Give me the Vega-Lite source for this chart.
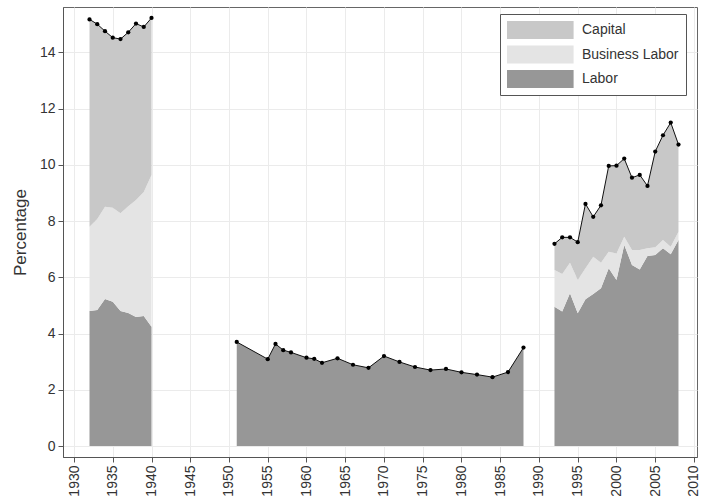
{
  "$schema": "https://vega.github.io/schema/vega-lite/v6.json",
  "width": 634,
  "height": 450,
  "autosize": {"type": "none"},
  "padding": {"left": 63, "top": 7, "right": 14, "bottom": 41},
  "background": "white",
  "config": {
    "font": "Liberation Sans",
    "view": {"stroke": "#666", "strokeWidth": 1},
    "axis": {
      "domainColor": "#555",
      "tickColor": "#555",
      "gridColor": "#ebebeb",
      "gridWidth": 1,
      "labelFont": "Liberation Sans",
      "labelFontSize": 14,
      "labelColor": "#333",
      "titleFont": "Liberation Sans",
      "titleFontWeight": "normal",
      "titleColor": "#333",
      "tickSize": 5
    },
    "legend": {
      "orient": "none",
      "legendX": 437,
      "legendY": 7,
      "direction": "vertical",
      "fillColor": "white",
      "strokeColor": "#555",
      "padding": 7,
      "symbolType": "M-1,-1H6.4V1H-1Z",
      "symbolSize": 324,
      "symbolStrokeWidth": 0,
      "symbolOffset": 0,
      "labelOffset": 57,
      "rowPadding": 6.5,
      "labelFont": "Liberation Sans",
      "labelFontSize": 14,
      "labelColor": "#333"
    }
  },
  "data": {
    "values": [
      {"year": 1932, "seg": "a", "comp": "Labor", "k": 1, "v": 4.80},
      {"year": 1932, "seg": "a", "comp": "Business Labor", "k": 2, "v": 3.00},
      {"year": 1932, "seg": "a", "comp": "Capital", "k": 3, "v": 7.37},
      {"year": 1933, "seg": "a", "comp": "Labor", "k": 1, "v": 4.84},
      {"year": 1933, "seg": "a", "comp": "Business Labor", "k": 2, "v": 3.23},
      {"year": 1933, "seg": "a", "comp": "Capital", "k": 3, "v": 6.93},
      {"year": 1934, "seg": "a", "comp": "Labor", "k": 1, "v": 5.23},
      {"year": 1934, "seg": "a", "comp": "Business Labor", "k": 2, "v": 3.28},
      {"year": 1934, "seg": "a", "comp": "Capital", "k": 3, "v": 6.24},
      {"year": 1935, "seg": "a", "comp": "Labor", "k": 1, "v": 5.13},
      {"year": 1935, "seg": "a", "comp": "Business Labor", "k": 2, "v": 3.34},
      {"year": 1935, "seg": "a", "comp": "Capital", "k": 3, "v": 6.05},
      {"year": 1936, "seg": "a", "comp": "Labor", "k": 1, "v": 4.80},
      {"year": 1936, "seg": "a", "comp": "Business Labor", "k": 2, "v": 3.48},
      {"year": 1936, "seg": "a", "comp": "Capital", "k": 3, "v": 6.19},
      {"year": 1937, "seg": "a", "comp": "Labor", "k": 1, "v": 4.73},
      {"year": 1937, "seg": "a", "comp": "Business Labor", "k": 2, "v": 3.80},
      {"year": 1937, "seg": "a", "comp": "Capital", "k": 3, "v": 6.18},
      {"year": 1938, "seg": "a", "comp": "Labor", "k": 1, "v": 4.59},
      {"year": 1938, "seg": "a", "comp": "Business Labor", "k": 2, "v": 4.16},
      {"year": 1938, "seg": "a", "comp": "Capital", "k": 3, "v": 6.27},
      {"year": 1939, "seg": "a", "comp": "Labor", "k": 1, "v": 4.62},
      {"year": 1939, "seg": "a", "comp": "Business Labor", "k": 2, "v": 4.41},
      {"year": 1939, "seg": "a", "comp": "Capital", "k": 3, "v": 5.87},
      {"year": 1940, "seg": "a", "comp": "Labor", "k": 1, "v": 4.24},
      {"year": 1940, "seg": "a", "comp": "Business Labor", "k": 2, "v": 5.40},
      {"year": 1940, "seg": "a", "comp": "Capital", "k": 3, "v": 5.58},
      {"year": 1951, "seg": "b", "comp": "Labor", "k": 1, "v": 3.70},
      {"year": 1955, "seg": "b", "comp": "Labor", "k": 1, "v": 3.09},
      {"year": 1956, "seg": "b", "comp": "Labor", "k": 1, "v": 3.63},
      {"year": 1957, "seg": "b", "comp": "Labor", "k": 1, "v": 3.41},
      {"year": 1958, "seg": "b", "comp": "Labor", "k": 1, "v": 3.33},
      {"year": 1960, "seg": "b", "comp": "Labor", "k": 1, "v": 3.14},
      {"year": 1961, "seg": "b", "comp": "Labor", "k": 1, "v": 3.10},
      {"year": 1962, "seg": "b", "comp": "Labor", "k": 1, "v": 2.96},
      {"year": 1964, "seg": "b", "comp": "Labor", "k": 1, "v": 3.12},
      {"year": 1966, "seg": "b", "comp": "Labor", "k": 1, "v": 2.89},
      {"year": 1968, "seg": "b", "comp": "Labor", "k": 1, "v": 2.78},
      {"year": 1970, "seg": "b", "comp": "Labor", "k": 1, "v": 3.20},
      {"year": 1972, "seg": "b", "comp": "Labor", "k": 1, "v": 2.99},
      {"year": 1974, "seg": "b", "comp": "Labor", "k": 1, "v": 2.81},
      {"year": 1976, "seg": "b", "comp": "Labor", "k": 1, "v": 2.70},
      {"year": 1978, "seg": "b", "comp": "Labor", "k": 1, "v": 2.74},
      {"year": 1980, "seg": "b", "comp": "Labor", "k": 1, "v": 2.62},
      {"year": 1982, "seg": "b", "comp": "Labor", "k": 1, "v": 2.54},
      {"year": 1984, "seg": "b", "comp": "Labor", "k": 1, "v": 2.45},
      {"year": 1986, "seg": "b", "comp": "Labor", "k": 1, "v": 2.63},
      {"year": 1988, "seg": "b", "comp": "Labor", "k": 1, "v": 3.50},
      {"year": 1992, "seg": "c", "comp": "Labor", "k": 1, "v": 4.95},
      {"year": 1992, "seg": "c", "comp": "Business Labor", "k": 2, "v": 1.31},
      {"year": 1992, "seg": "c", "comp": "Capital", "k": 3, "v": 0.93},
      {"year": 1993, "seg": "c", "comp": "Labor", "k": 1, "v": 4.78},
      {"year": 1993, "seg": "c", "comp": "Business Labor", "k": 2, "v": 1.34},
      {"year": 1993, "seg": "c", "comp": "Capital", "k": 3, "v": 1.30},
      {"year": 1994, "seg": "c", "comp": "Labor", "k": 1, "v": 5.43},
      {"year": 1994, "seg": "c", "comp": "Business Labor", "k": 2, "v": 1.09},
      {"year": 1994, "seg": "c", "comp": "Capital", "k": 3, "v": 0.90},
      {"year": 1995, "seg": "c", "comp": "Labor", "k": 1, "v": 4.72},
      {"year": 1995, "seg": "c", "comp": "Business Labor", "k": 2, "v": 1.18},
      {"year": 1995, "seg": "c", "comp": "Capital", "k": 3, "v": 1.35},
      {"year": 1996, "seg": "c", "comp": "Labor", "k": 1, "v": 5.22},
      {"year": 1996, "seg": "c", "comp": "Business Labor", "k": 2, "v": 1.10},
      {"year": 1996, "seg": "c", "comp": "Capital", "k": 3, "v": 2.29},
      {"year": 1997, "seg": "c", "comp": "Labor", "k": 1, "v": 5.41},
      {"year": 1997, "seg": "c", "comp": "Business Labor", "k": 2, "v": 1.32},
      {"year": 1997, "seg": "c", "comp": "Capital", "k": 3, "v": 1.42},
      {"year": 1998, "seg": "c", "comp": "Labor", "k": 1, "v": 5.61},
      {"year": 1998, "seg": "c", "comp": "Business Labor", "k": 2, "v": 0.91},
      {"year": 1998, "seg": "c", "comp": "Capital", "k": 3, "v": 2.04},
      {"year": 1999, "seg": "c", "comp": "Labor", "k": 1, "v": 6.32},
      {"year": 1999, "seg": "c", "comp": "Business Labor", "k": 2, "v": 0.59},
      {"year": 1999, "seg": "c", "comp": "Capital", "k": 3, "v": 3.05},
      {"year": 2000, "seg": "c", "comp": "Labor", "k": 1, "v": 5.90},
      {"year": 2000, "seg": "c", "comp": "Business Labor", "k": 2, "v": 0.95},
      {"year": 2000, "seg": "c", "comp": "Capital", "k": 3, "v": 3.12},
      {"year": 2001, "seg": "c", "comp": "Labor", "k": 1, "v": 7.15},
      {"year": 2001, "seg": "c", "comp": "Business Labor", "k": 2, "v": 0.29},
      {"year": 2001, "seg": "c", "comp": "Capital", "k": 3, "v": 2.78},
      {"year": 2002, "seg": "c", "comp": "Labor", "k": 1, "v": 6.44},
      {"year": 2002, "seg": "c", "comp": "Business Labor", "k": 2, "v": 0.53},
      {"year": 2002, "seg": "c", "comp": "Capital", "k": 3, "v": 2.57},
      {"year": 2003, "seg": "c", "comp": "Labor", "k": 1, "v": 6.28},
      {"year": 2003, "seg": "c", "comp": "Business Labor", "k": 2, "v": 0.69},
      {"year": 2003, "seg": "c", "comp": "Capital", "k": 3, "v": 2.67},
      {"year": 2004, "seg": "c", "comp": "Labor", "k": 1, "v": 6.76},
      {"year": 2004, "seg": "c", "comp": "Business Labor", "k": 2, "v": 0.27},
      {"year": 2004, "seg": "c", "comp": "Capital", "k": 3, "v": 2.22},
      {"year": 2005, "seg": "c", "comp": "Labor", "k": 1, "v": 6.79},
      {"year": 2005, "seg": "c", "comp": "Business Labor", "k": 2, "v": 0.28},
      {"year": 2005, "seg": "c", "comp": "Capital", "k": 3, "v": 3.40},
      {"year": 2006, "seg": "c", "comp": "Labor", "k": 1, "v": 7.03},
      {"year": 2006, "seg": "c", "comp": "Business Labor", "k": 2, "v": 0.30},
      {"year": 2006, "seg": "c", "comp": "Capital", "k": 3, "v": 3.72},
      {"year": 2007, "seg": "c", "comp": "Labor", "k": 1, "v": 6.82},
      {"year": 2007, "seg": "c", "comp": "Business Labor", "k": 2, "v": 0.27},
      {"year": 2007, "seg": "c", "comp": "Capital", "k": 3, "v": 4.41},
      {"year": 2008, "seg": "c", "comp": "Labor", "k": 1, "v": 7.33},
      {"year": 2008, "seg": "c", "comp": "Business Labor", "k": 2, "v": 0.29},
      {"year": 2008, "seg": "c", "comp": "Capital", "k": 3, "v": 3.10}
    ]
  },
  "encoding": {
    "x": {
      "field": "year", "type": "quantitative",
      "scale": {"domain": [1928.58, 2010.39], "nice": false, "zero": false},
      "axis": {
        "title": null,
        "values": [1930, 1935, 1940, 1945, 1950, 1955, 1960, 1965, 1970, 1975, 1980, 1985, 1990, 1995, 2000, 2005, 2010],
        "format": "d",
        "labelAngle": 270,
        "labelAlign": "right",
        "labelBaseline": "middle",
        "labelPadding": 3,
        "labelOverlap": false,
        "labelBound": false,
        "labelFlush": false,
        "grid": true
      }
    }
  },
  "layer": [
    {
      "transform": [
        {"stack": "v", "groupby": ["year"], "sort": [{"field": "k", "order": "ascending"}], "as": ["v0", "v1"]}
      ],
      "mark": {"type": "area", "opacity": 1, "interpolate": "linear"},
      "encoding": {
        "y": {
          "field": "v1", "type": "quantitative",
          "scale": {"domain": [-0.39, 15.61], "nice": false, "zero": false},
          "axis": {
            "title": "Percentage",
            "titleFontSize": 17,
            "titlePadding": 10,
            "values": [0, 2, 4, 6, 8, 10, 12, 14],
            "labelPadding": 3,
            "labelOverlap": false,
            "grid": true
          }
        },
        "y2": {"field": "v0"},
        "color": {
          "field": "comp", "type": "nominal",
          "scale": {"domain": ["Capital", "Business Labor", "Labor"], "range": ["#c8c8c8", "#e4e4e4", "#979797"]},
          "legend": {"title": null}
        },
        "detail": {"field": "seg", "type": "nominal"}
      }
    },
    {
      "transform": [
        {"aggregate": [{"op": "sum", "field": "v", "as": "total"}], "groupby": ["year", "seg"]}
      ],
      "mark": {"type": "line", "color": "#111", "strokeWidth": 1},
      "encoding": {
        "y": {"field": "total", "type": "quantitative"},
        "detail": {"field": "seg", "type": "nominal"}
      }
    },
    {
      "transform": [
        {"aggregate": [{"op": "sum", "field": "v", "as": "total"}], "groupby": ["year", "seg"]}
      ],
      "mark": {"type": "point", "filled": true, "color": "#000", "size": 18, "opacity": 1},
      "encoding": {
        "y": {"field": "total", "type": "quantitative"}
      }
    }
  ]
}
